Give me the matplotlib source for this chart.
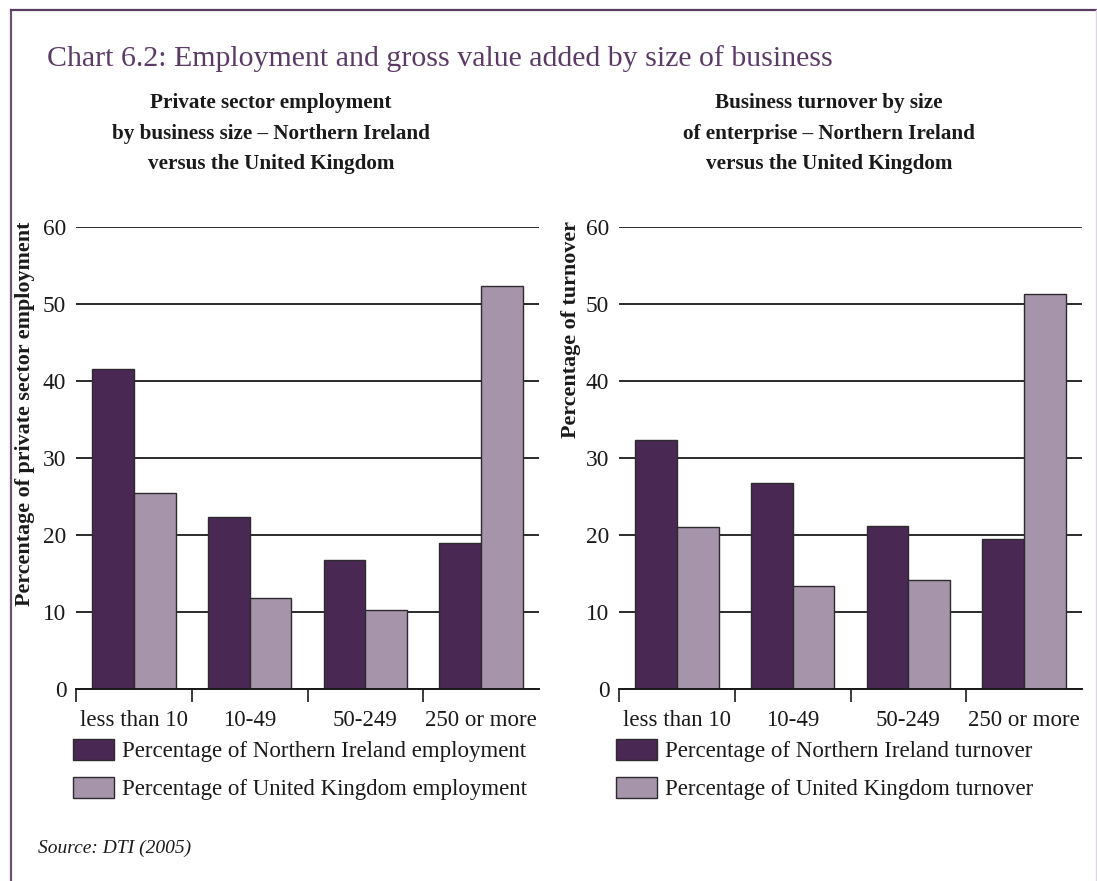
import matplotlib
matplotlib.use('Agg')
import matplotlib.pyplot as plt
from matplotlib.lines import Line2D

plt.rcParams['font.family'] = ['Liberation Serif', 'DejaVu Serif']

categories = ['less than 10', '10-49', '50-249', '250 or more']
ni_employment = [41.6, 22.4, 16.8, 19.0]
uk_employment = [25.4, 11.8, 10.3, 52.4]
ni_turnover = [32.3, 26.7, 21.2, 19.5]
uk_turnover = [21.0, 13.4, 14.1, 51.3]

dark = '#4a2854'
light = '#a594aa'
frame_col = '#6a4f76'

W, H = 1097, 881
fig = plt.figure(figsize=(W / 100, H / 100), dpi=100)


def px(x, y):
    return x / W, 1 - y / H


def panel(left, ni, uk, ylabel, ni_lab, uk_lab, label_x):
    ax = fig.add_axes([left / W, 1 - 689 / H, 463 / W, 462 / H])
    x = range(len(categories))
    ax.bar([i - 0.18 for i in x], ni, width=0.36, color=dark, edgecolor='#2e2a30', linewidth=1, label=ni_lab, zorder=2)
    ax.bar([i + 0.18 for i in x], uk, width=0.36, color=light, edgecolor='#2e2a30', linewidth=1, label=uk_lab, zorder=2)
    ax.set_xlim(-0.5, 3.5)
    ax.set_ylim(0, 60)
    ax.set_yticks(range(0, 61, 10))
    ax.yaxis.grid(True, color='#1a1a1a', linewidth=1.3)
    ax.set_axisbelow(True)
    for s in ['left', 'right', 'top']:
        ax.spines[s].set_visible(False)
    ax.spines['bottom'].set_color('#1a1a1a')
    ax.spines['bottom'].set_linewidth(1.4)
    ax.spines['bottom'].set_zorder(3)
    ax.set_xticks(list(x))
    ax.set_xticklabels(categories)
    ax.set_xticks([-0.5, 0.5, 1.5, 2.5], minor=True)
    ax.tick_params(axis='x', which='major', length=0, labelsize=16.5, pad=15, colors='#1a1a1a')
    ax.tick_params(axis='x', which='minor', length=9, width=1.2, direction='out', color='#1a1a1a')
    ax.tick_params(axis='y', length=0, labelsize=16.8, pad=7, colors='#1a1a1a')
    ax.set_ylabel(ylabel, loc='top', fontsize=15.8, fontweight='bold', color='#1a1a1a')
    ax.yaxis.set_label_coords(label_x, 1.012)
    ax.legend(loc='upper left', bbox_to_anchor=(-0.006, -0.108), frameon=False, fontsize=16.5,
              handlelength=1.8, handleheight=1.05, handletextpad=0.35, labelspacing=0.62,
              borderpad=0, borderaxespad=0, labelcolor='#1a1a1a')
    return ax


panel(76, ni_employment, uk_employment, 'Percentage of private sector employment',
      'Percentage of Northern Ireland employment', 'Percentage of United Kingdom employment', -0.088)
panel(619, ni_turnover, uk_turnover, 'Percentage of turnover',
      'Percentage of Northern Ireland turnover', 'Percentage of United Kingdom turnover', -0.082)

fig.text(*px(47, 66), 'Chart 6.2: Employment and gross value added by size of business',
         fontsize=21.5, color='#5b3a66', ha='left', va='baseline')
fig.text(*px(271, 93), 'Private sector employment\nby business size \u2013 Northern Ireland\nversus the United Kingdom',
         fontsize=15.2, fontweight='bold', ha='center', va='top', linespacing=1.7, color='#1a1a1a')
fig.text(*px(829, 93), 'Business turnover by size\nof enterprise \u2013 Northern Ireland\nversus the United Kingdom',
         fontsize=15.2, fontweight='bold', ha='center', va='top', linespacing=1.7, color='#1a1a1a')
fig.text(*px(38, 848), 'Source: DTI (2005)', fontsize=14, style='italic', ha='left', va='center', color='#1a1a1a')

# frame
fig.add_artist(Line2D([11 / W, 11 / W], [0, 1 - 10 / H], color=frame_col, linewidth=1.6))
fig.add_artist(Line2D([11 / W, 1], [1 - 10 / H, 1 - 10 / H], color='#5b3a66', linewidth=1.6))
fig.add_artist(Line2D([1096 / W, 1096 / W], [0, 1 - 10 / H], color='#dcd6e0', linewidth=1))

fig.savefig('out.png', dpi=100)
